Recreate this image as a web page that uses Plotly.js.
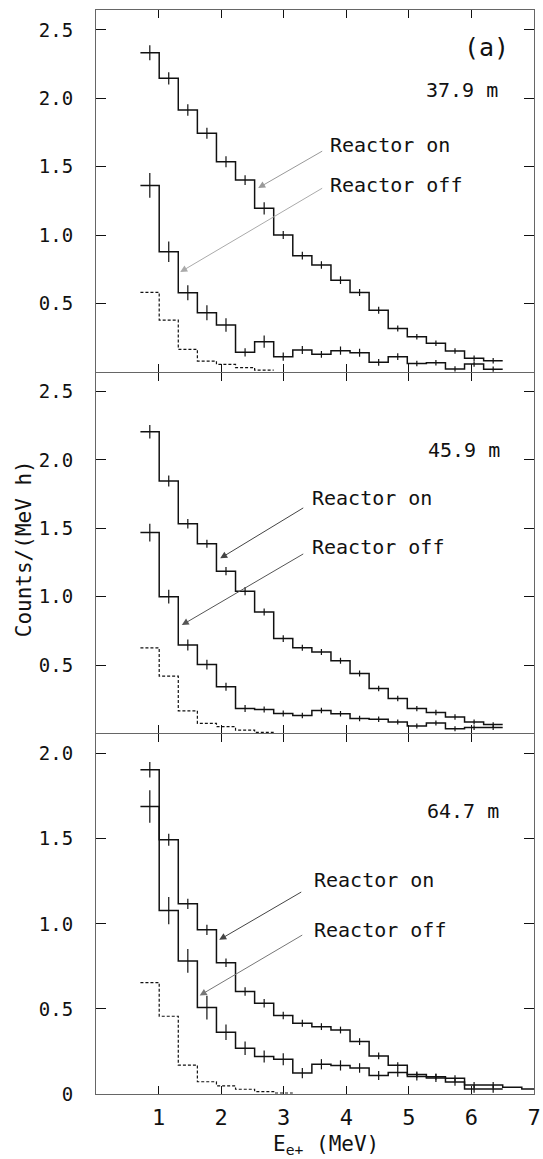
<!DOCTYPE html>
<html>
<head>
<meta charset="utf-8">
<script src="https://cdn.plot.ly/plotly-3.0.1.min.js"></script>
<style>html,body{margin:0;padding:0;background:#fff;}#chart{width:543px;height:1159px;}</style>
</head>
<body>
<div id="chart"></div>
<script>
// Bin edges (MeV)
const binEdges = [0.71, 1.01, 1.315, 1.62, 1.925, 2.23, 2.535, 2.84, 3.145, 3.45, 3.755, 4.06, 4.365, 4.67, 4.975, 5.28, 5.585, 5.89, 6.195, 6.5];
const extraEdges = [6.805, 7.0];

// 37.9 m
const on37 = [2.334, 2.146, 1.914, 1.744, 1.536, 1.402, 1.195, 1.0, 0.849, 0.781, 0.67, 0.58, 0.45, 0.317, 0.256, 0.208, 0.151, 0.098, 0.08];
const errOn37 = [0.055, 0.045, 0.042, 0.04, 0.04, 0.036, 0.045, 0.03, 0.028, 0.028, 0.028, 0.026, 0.025, 0.022, 0.02, 0.02, 0.02, 0.02, 0.02];
const off37 = [1.363, 0.878, 0.578, 0.432, 0.342, 0.142, 0.22, 0.11, 0.159, 0.127, 0.154, 0.139, 0.069, 0.11, 0.061, 0.066, 0.02, 0.056, 0.018];
const errOff37 = [0.09, 0.075, 0.055, 0.055, 0.05, 0.03, 0.045, 0.03, 0.03, 0.025, 0.03, 0.03, 0.025, 0.025, 0.02, 0.02, 0.02, 0.02, 0.02];
const dash37 = [0.581, 0.378, 0.164, 0.078, 0.054, 0.03, 0.012];

// 45.9 m
const on46 = [2.206, 1.846, 1.533, 1.387, 1.186, 1.04, 0.888, 0.693, 0.626, 0.595, 0.531, 0.438, 0.328, 0.255, 0.181, 0.152, 0.12, 0.083, 0.064];
const errOn46 = [0.05, 0.04, 0.035, 0.03, 0.03, 0.03, 0.025, 0.025, 0.022, 0.022, 0.022, 0.022, 0.02, 0.02, 0.02, 0.02, 0.02, 0.018, 0.018];
const off46 = [1.469, 1.0, 0.646, 0.503, 0.341, 0.182, 0.175, 0.146, 0.131, 0.167, 0.144, 0.108, 0.103, 0.083, 0.054, 0.076, 0.034, 0.042, 0.042];
const errOff46 = [0.065, 0.05, 0.04, 0.035, 0.03, 0.025, 0.022, 0.022, 0.02, 0.02, 0.02, 0.02, 0.02, 0.018, 0.018, 0.018, 0.018, 0.018, 0.018];
const dash46 = [0.626, 0.419, 0.165, 0.073, 0.049, 0.024, 0.007];

// 64.7 m
const on65 = [1.906, 1.494, 1.118, 0.965, 0.772, 0.602, 0.533, 0.461, 0.416, 0.396, 0.376, 0.308, 0.224, 0.169, 0.114, 0.102, 0.092, 0.053, 0.053, 0.039, 0.029];
const errOn65 = [0.045, 0.035, 0.03, 0.03, 0.025, 0.025, 0.025, 0.022, 0.02, 0.02, 0.02, 0.02, 0.02, 0.018, 0.018, 0.018, 0.018, 0.018, 0.018];
const off65 = [1.69, 1.078, 0.782, 0.508, 0.363, 0.269, 0.22, 0.204, 0.123, 0.175, 0.168, 0.153, 0.109, 0.127, 0.103, 0.094, 0.07, 0.03, 0.03];
const errOff65 = [0.095, 0.08, 0.07, 0.07, 0.045, 0.04, 0.035, 0.035, 0.03, 0.03, 0.03, 0.028, 0.026, 0.026, 0.024, 0.024, 0.022, 0.022, 0.022];
const dash65 = [0.655, 0.457, 0.17, 0.072, 0.048, 0.028, 0.014, 0.006];

const distances = ["37.9 m", "45.9 m", "64.7 m"];
const lineLabels = ["Reactor on", "Reactor off"];
const yTicks12 = [0.5, 1.0, 1.5, 2.0, 2.5];
const yTickText12 = ["0.5", "1.0", "1.5", "2.0", "2.5"];
const yTicks3 = [0, 0.5, 1.0, 1.5, 2.0];
const yTickText3 = ["0", "0.5", "1.0", "1.5", "2.0"];
const xTicks = [1, 2, 3, 4, 5, 6, 7];

const FONT = "DejaVu Sans Mono";
const INK = "#111";
const FRAME = "#666";
const edgesAll = binEdges.concat(extraEdges);
const PX = 1 / 1084; // one pixel of plot height in paper units

function stepTrace(edges, vals, xa, ya, dash) {
  const x = edges.slice(0, vals.length + 1);
  const y = vals.concat([vals[vals.length - 1]]);
  return {type: 'scatter', mode: 'lines', x: x, y: y, xaxis: xa, yaxis: ya,
    line: {shape: 'hv', color: INK, width: dash ? 1.2 : 1.5, dash: dash || 'solid'},
    hoverinfo: 'skip', showlegend: false};
}
function errTrace(edges, vals, errs, xa, ya) {
  const n = errs.length;
  const x = [];
  for (let i = 0; i < n; i++) x.push((edges[i] + edges[i + 1]) / 2);
  return {type: 'scatter', mode: 'markers', x: x, y: vals.slice(0, n), xaxis: xa, yaxis: ya,
    error_y: {type: 'data', array: errs, visible: true, width: 0, thickness: 1.2, color: INK},
    marker: {size: 1, color: 'rgba(0,0,0,0)'}, hoverinfo: 'skip', showlegend: false};
}

const traces = [
  stepTrace(binEdges, on37, 'x', 'y'), errTrace(binEdges, on37, errOn37, 'x', 'y'),
  stepTrace(binEdges, off37, 'x', 'y'), errTrace(binEdges, off37, errOff37, 'x', 'y'),
  stepTrace(binEdges, dash37, 'x', 'y', '3px,2px'),
  stepTrace(binEdges, on46, 'x2', 'y2'), errTrace(binEdges, on46, errOn46, 'x2', 'y2'),
  stepTrace(binEdges, off46, 'x2', 'y2'), errTrace(binEdges, off46, errOff46, 'x2', 'y2'),
  stepTrace(binEdges, dash46, 'x2', 'y2', '3px,2px'),
  stepTrace(edgesAll, on65, 'x3', 'y3'), errTrace(edgesAll, on65, errOn65, 'x3', 'y3'),
  stepTrace(binEdges, off65, 'x3', 'y3'), errTrace(binEdges, off65, errOff65, 'x3', 'y3'),
  stepTrace(binEdges, dash65, 'x3', 'y3', '3px,2px')
];

function xAxis(anchor, showLabels) {
  return {anchor: anchor, range: [0, 7], tickvals: xTicks, ticktext: xTicks.map(String),
    ticks: 'inside', ticklen: 8, tickwidth: 1, tickcolor: INK,
    showline: true, linecolor: FRAME, linewidth: 1, mirror: 'ticks',
    showgrid: false, zeroline: false, showticklabels: showLabels,
    ticklabelstandoff: 4,
    tickfont: {family: FONT, size: 22, color: INK}};
}
function yAxis(anchor, domain, range, vals, text) {
  return {anchor: anchor, domain: domain, range: range, tickvals: vals, ticktext: text,
    ticks: 'inside', ticklen: 10, tickwidth: 1, tickcolor: INK,
    showline: true, linecolor: FRAME, linewidth: 1, mirror: 'ticks',
    showgrid: false, zeroline: false, ticklabelstandoff: 18,
    tickfont: {family: FONT, size: 19, color: INK}};
}

function label(text, x, y, xa, ya, size, anchor) {
  return {text: text, x: x, y: y, xref: xa, yref: ya, showarrow: false,
    xanchor: anchor || 'center', yanchor: 'middle', font: {family: FONT, size: size, color: INK}};
}
function arrow(x, y, ax, ay, xa, ya, color) {
  return {text: ' ', x: x, y: y, ax: ax, ay: ay, xref: xa, yref: ya, axref: xa, ayref: ya,
    showarrow: true, arrowhead: 2, arrowsize: 1.4, arrowwidth: 1, arrowcolor: color,
    font: {size: 2}};
}

const annotations = [
  label('(a)', 6.236, 2.375, 'x', 'y', 25),
  label(distances[0], 5.853, 2.061, 'x', 'y', 20),
  label(lineLabels[0], 3.711, 1.658, 'x', 'y', 20, 'left'),
  label(lineLabels[1], 3.711, 1.366, 'x', 'y', 20, 'left'),
  arrow(2.592, 1.344, 3.647, 1.622, 'x', 'y', '#999'),
  arrow(1.346, 0.729, 3.647, 1.351, 'x', 'y', '#aaa'),

  label(distances[1], 5.885, 2.072, 'x2', 'y2', 20),
  label(lineLabels[0], 3.423, 1.721, 'x2', 'y2', 20, 'left'),
  label(lineLabels[1], 3.423, 1.363, 'x2', 'y2', 20, 'left'),
  arrow(1.985, 1.280, 3.344, 1.658, 'x2', 'y2', '#444'),
  arrow(1.371, 0.792, 3.344, 1.321, 'x2', 'y2', '#555'),

  label(distances[2], 5.869, 1.661, 'x3', 'y3', 20),
  label(lineLabels[0], 3.455, 1.259, 'x3', 'y3', 20, 'left'),
  label(lineLabels[1], 3.455, 0.965, 'x3', 'y3', 20, 'left'),
  arrow(1.969, 0.906, 3.312, 1.194, 'x3', 'y3', '#444'),
  arrow(1.657, 0.579, 3.328, 0.941, 'x3', 'y3', '#777'),

  {text: 'Counts/(MeV h)', x: -0.1655, y: 0.503, xref: 'paper', yref: 'paper', showarrow: false,
    textangle: -90, xanchor: 'center', yanchor: 'middle', font: {family: FONT, size: 21, color: INK}},
  {text: 'E<sub>e+</sub> (MeV)', x: 0.525, y: -0.047, xref: 'paper', yref: 'paper', showarrow: false,
    xanchor: 'center', yanchor: 'middle', font: {family: FONT, size: 21, color: INK}}
];

const layout = {
  width: 543, height: 1159,
  margin: {l: 96, r: 9, t: 10, b: 65},
  paper_bgcolor: '#fff', plot_bgcolor: '#fff',
  showlegend: false,
  xaxis: xAxis('y', false),
  xaxis2: xAxis('y2', false),
  xaxis3: xAxis('y3', true),
  yaxis: yAxis('x', [0.6663, 1], [0, 2.646], yTicks12, yTickText12),
  yaxis2: yAxis('x2', [0.3327, 0.6663 - PX], [0, 2.638], yTicks12, yTickText12),
  yaxis3: yAxis('x3', [0, 0.3327 - PX], [0, 2.114], yTicks3, yTickText3),
  annotations: annotations
};

Plotly.newPlot('chart', traces, layout, {staticPlot: true, displayModeBar: false});
</script>
</body>
</html>
